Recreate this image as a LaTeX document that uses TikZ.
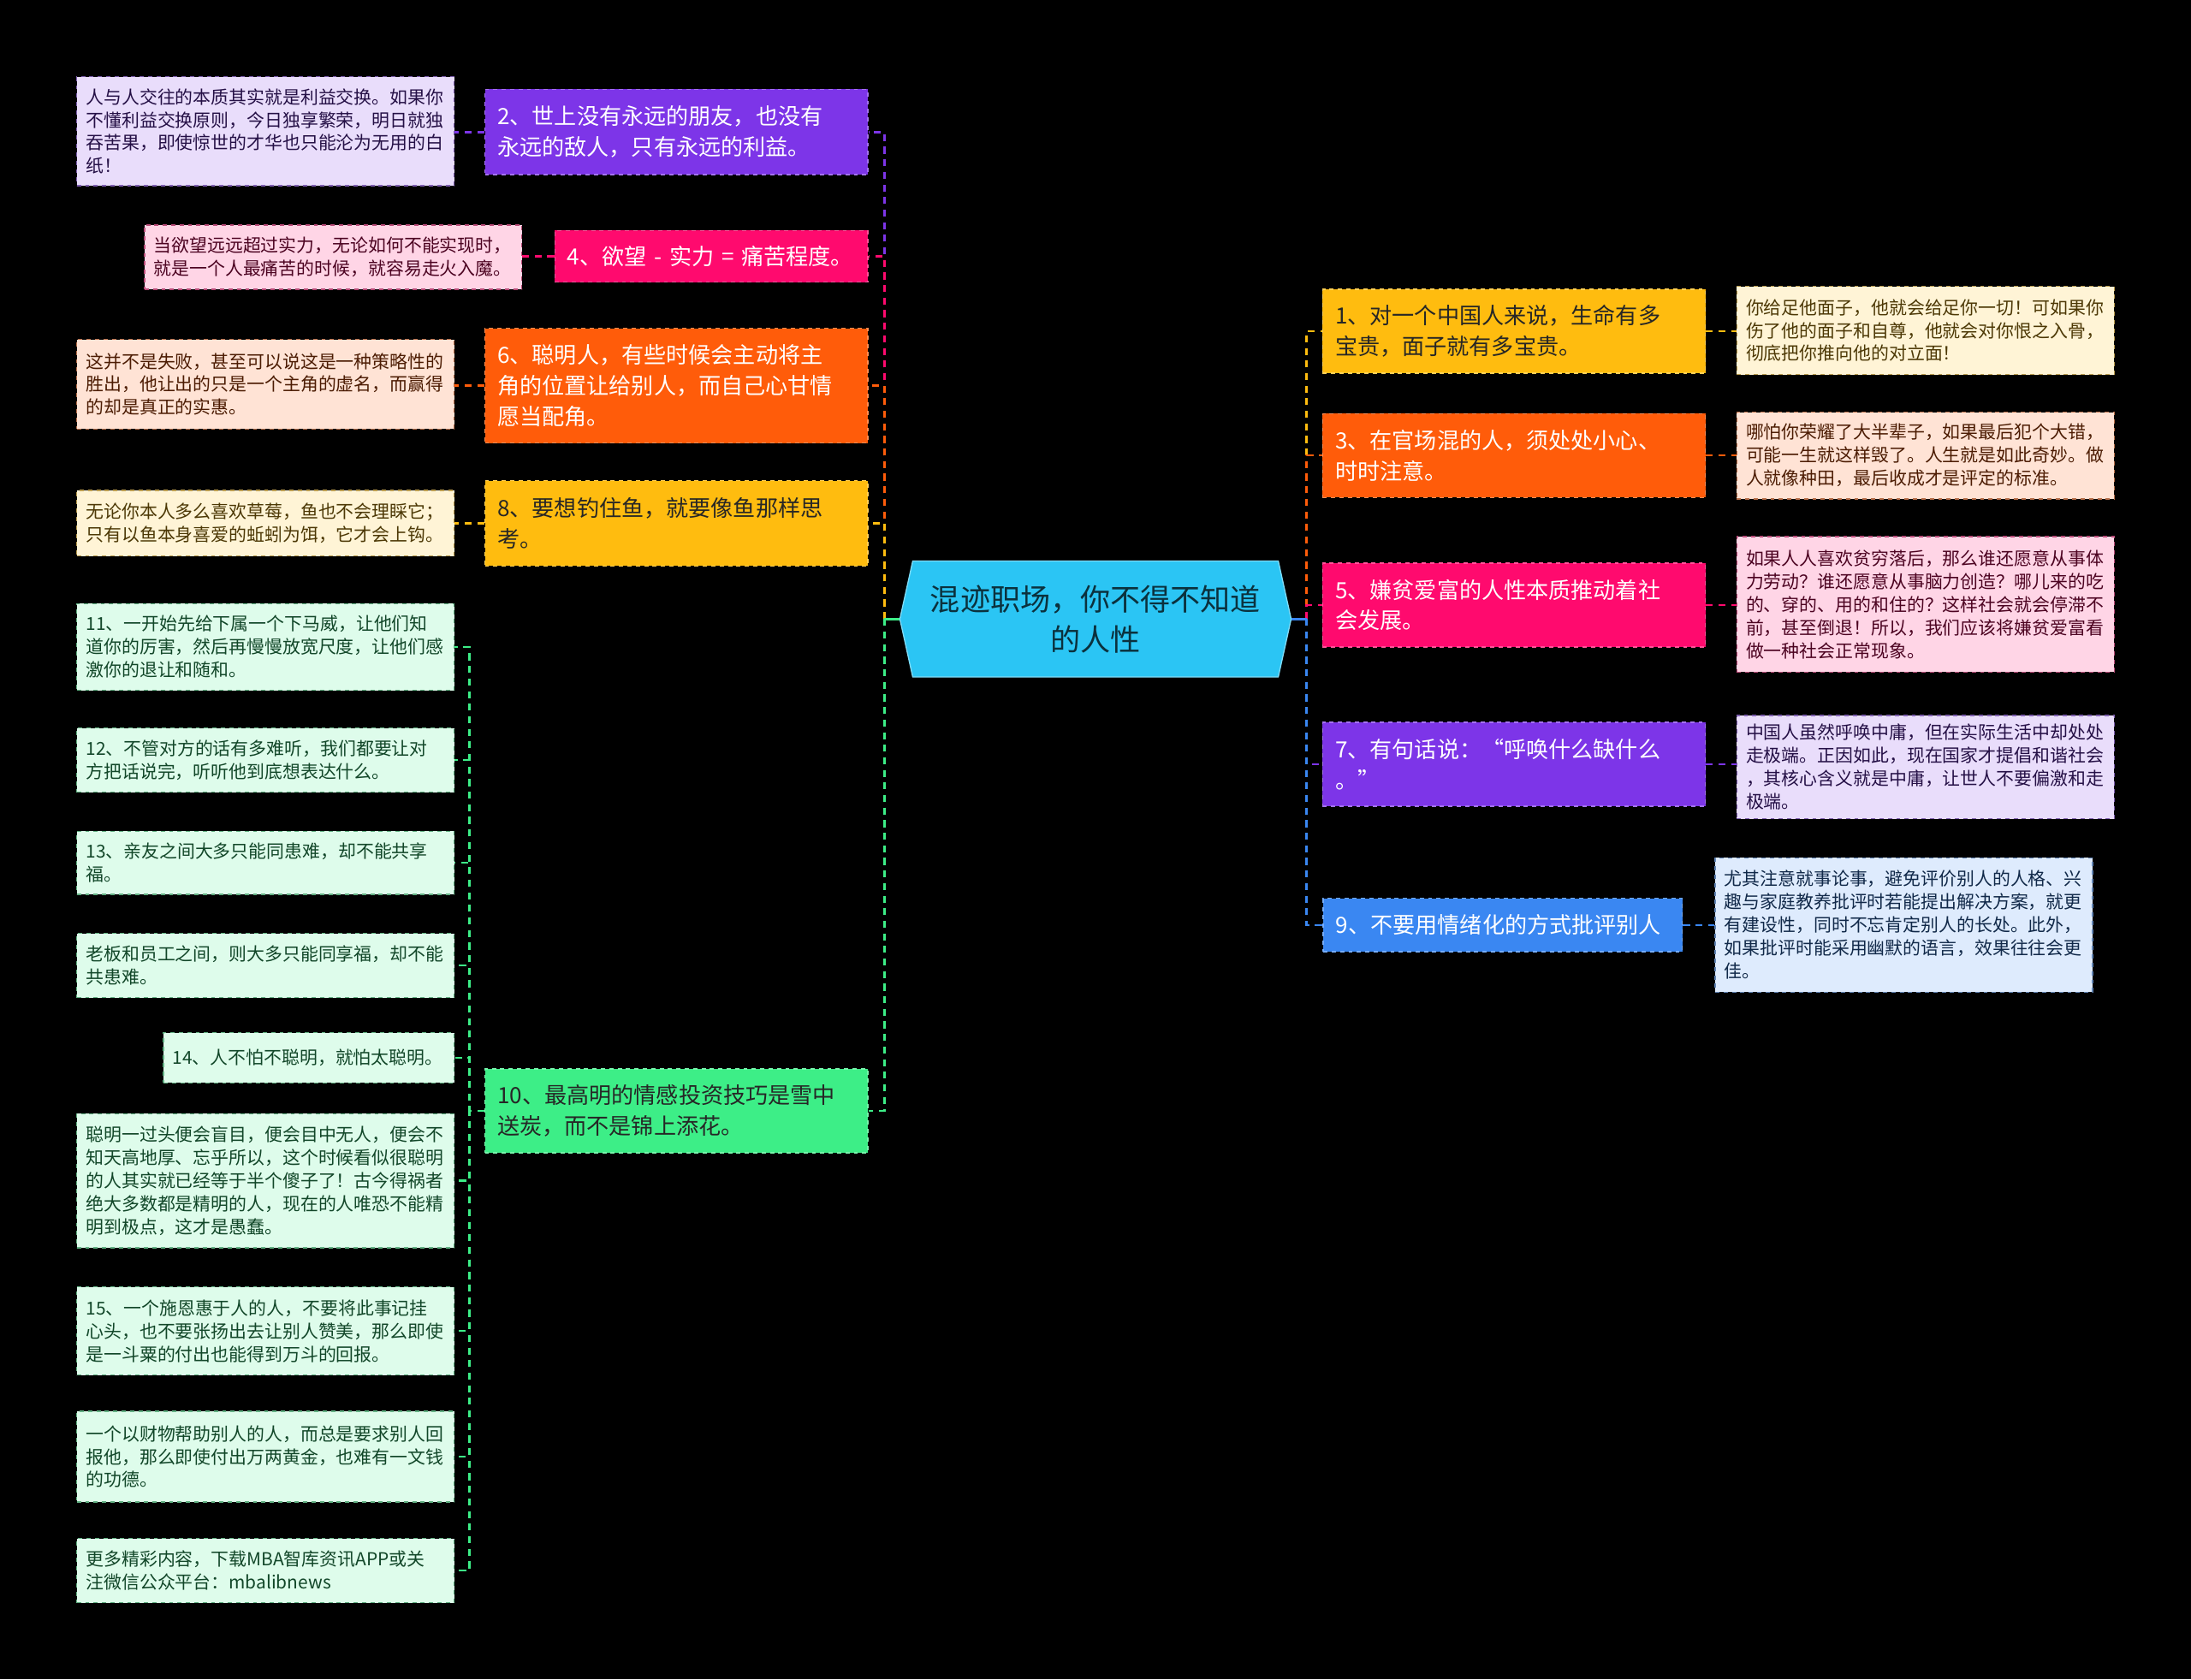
\documentclass[tikz,border=0pt]{standalone}
\usepackage{fontspec}
\setmainfont{Noto Sans CJK SC}
\usetikzlibrary{shapes.symbols}
\definecolor{cAmber}{RGB}{255,188,15}
\definecolor{cOrange}{RGB}{255,92,10}
\definecolor{cRose}{RGB}{255,10,110}
\definecolor{cPurple}{RGB}{125,53,232}
\definecolor{cBlue}{RGB}{58,135,242}
\definecolor{cGreen}{RGB}{61,238,135}
\definecolor{cCyan}{RGB}{43,197,244}
\tikzset{
  topic/.style={draw=#1!70!white, dashed, fill=#1, line width=0.8pt, inner xsep=9pt, text width=256pt, align=left, font=\fontsize{16}{22}\selectfont},
  note/.style={draw=#1!45!gray, dashed, fill=#1!17!white, text=#1!30!black, line width=0.8pt, inner xsep=6.5pt, text width=257pt, align=left, font=\fontsize{12.8}{16.5}\selectfont},
  conn/.style={draw=#1, dash pattern=on 5pt off 4pt, line width=1.5pt},
  stub/.style={draw=#1, line width=1.5pt},
  dark/.style={text=black!85}
}

\begin{document}
\begin{tikzpicture}[x=1pt, y=-1pt]
\useasboundingbox (0,0) rectangle (1568,1202);
\fill[black] (0,0) rectangle (1568,1202);

\node[signal, signal to=west and east, signal pointer angle=155, fill=cCyan, draw=cCyan!60!white, line width=0.8pt, minimum width=280pt, minimum height=83pt, text=cCyan!25!black, align=center, font=\fontsize{21.5}{29}\selectfont] (root) at (784,443) {混迹职场，你不得不知道\\的人性};
\coordinate (lhub) at (633,443);
\coordinate (rhub) at (935,443);
\coordinate (ghub) at (336,795);

\node[topic=cPurple, text=white, minimum height=61pt] (t2) at (484,94.5) {2、世上没有永远的朋友，也没有\\永远的敌人，只有永远的利益。};
\node[topic=cRose, text=white, minimum height=37pt, text width=206pt] (t4) at (509,183.5) {4、欲望 - 实力 = 痛苦程度。};
\node[topic=cOrange, text=white, minimum height=82pt] (t6) at (484,276) {6、聪明人，有些时候会主动将主\\角的位置让给别人，而自己心甘情\\愿当配角。};
\node[topic=cAmber, dark, minimum height=61pt] (t8) at (484,374.5) {8、要想钓住鱼，就要像鱼那样思\\考。};
\node[topic=cGreen, dark, minimum height=60pt] (t10) at (484,795) {10、最高明的情感投资技巧是雪中\\送炭，而不是锦上添花。};

\node[topic=cAmber, dark, minimum height=60pt] (t1) at (1083.5,237) {1、对一个中国人来说，生命有多\\宝贵，面子就有多宝贵。};
\node[topic=cOrange, text=white, minimum height=60pt] (t3) at (1083.5,326) {3、在官场混的人，须处处小心、\\时时注意。};
\node[topic=cRose, text=white, minimum height=60pt] (t5) at (1083.5,433) {5、嫌贫爱富的人性本质推动着社\\会发展。};
\node[topic=cPurple, text=white, minimum height=60pt] (t7) at (1083.5,547) {7、有句话说：“呼唤什么缺什么\\。”};
\node[topic=cBlue, text=white, minimum height=38pt, text width=239pt] (t9) at (1075.5,662) {9、不要用情绪化的方式批评别人};

\node[note=cPurple, minimum height=78pt] (n2) at (190,94) {人与人交往的本质其实就是利益交换。如果你\\不懂利益交换原则，今日独享繁荣，明日就独\\吞苦果，即使惊世的才华也只能沦为无用的白\\纸！};
\node[note=cRose, minimum height=46pt] (n4) at (238.5,184) {当欲望远远超过实力，无论如何不能实现时，\\就是一个人最痛苦的时候，就容易走火入魔。};
\node[note=cOrange, minimum height=64pt] (n6) at (190,275) {这并不是失败，甚至可以说这是一种策略性的\\胜出，他让出的只是一个主角的虚名，而赢得\\的却是真正的实惠。};
\node[note=cAmber, minimum height=47pt] (n8) at (190,374.5) {无论你本人多么喜欢草莓，鱼也不会理睬它；\\只有以鱼本身喜爱的蚯蚓为饵，它才会上钩。};

\node[note=cGreen, minimum height=62pt] (n11) at (190,463) {11、一开始先给下属一个下马威，让他们知\\道你的厉害，然后再慢慢放宽尺度，让他们感\\激你的退让和随和。};
\node[note=cGreen, minimum height=46pt] (n12) at (190,544) {12、不管对方的话有多难听，我们都要让对\\方把话说完，听听他到底想表达什么。};
\node[note=cGreen, minimum height=45pt] (n13) at (190,617.5) {13、亲友之间大多只能同患难，却不能共享\\福。};
\node[note=cGreen, minimum height=46pt] (n13b) at (190,691) {老板和员工之间，则大多只能同享福，却不能\\共患难。};
\node[note=cGreen, minimum height=36pt, text width=195pt] (n14) at (221,757) {14、人不怕不聪明，就怕太聪明。};
\node[note=cGreen, minimum height=96pt] (n14b) at (190,845) {聪明一过头便会盲目，便会目中无人，便会不\\知天高地厚、忘乎所以，这个时候看似很聪明\\的人其实就已经等于半个傻子了！古今得祸者\\绝大多数都是精明的人，现在的人唯恐不能精\\明到极点，这才是愚蠢。};
\node[note=cGreen, minimum height=63pt] (n15) at (190,952.5) {15、一个施恩惠于人的人，不要将此事记挂\\心头，也不要张扬出去让别人赞美，那么即使\\是一斗粟的付出也能得到万斗的回报。};
\node[note=cGreen, minimum height=65pt] (n15b) at (190,1042.5) {一个以财物帮助别人的人，而总是要求别人回\\报他，那么即使付出万两黄金，也难有一文钱\\的功德。};
\node[note=cGreen, minimum height=46pt] (n16) at (190,1124) {更多精彩内容，下载MBA智库资讯APP或关\\注微信公众平台：mbalibnews};

\node[note=cAmber, minimum height=63pt] (n1) at (1378,236.5) {你给足他面子，他就会给足你一切！可如果你\\伤了他的面子和自尊，他就会对你恨之入骨，\\彻底把你推向他的对立面！};
\node[note=cOrange, minimum height=62pt] (n3) at (1378,326) {哪怕你荣耀了大半辈子，如果最后犯个大错，\\可能一生就这样毁了。人生就是如此奇妙。做\\人就像种田，最后收成才是评定的标准。};
\node[note=cRose, minimum height=97pt] (n5) at (1378,432.5) {如果人人喜欢贫穷落后，那么谁还愿意从事体\\力劳动？谁还愿意从事脑力创造？哪儿来的吃\\的、穿的、用的和住的？这样社会就会停滞不\\前，甚至倒退！所以，我们应该将嫌贫爱富看\\做一种社会正常现象。};
\node[note=cPurple, minimum height=74pt] (n7) at (1378,549) {中国人虽然呼唤中庸，但在实际生活中却处处\\走极端。正因如此，现在国家才提倡和谐社会\\，其核心含义就是中庸，让世人不要偏激和走\\极端。};
\node[note=cBlue, minimum height=96pt] (n9) at (1362.5,662) {尤其注意就事论事，避免评价别人的人格、兴\\趣与家庭教养批评时若能提出解决方案，就更\\有建设性，同时不忘肯定别人的长处。此外，\\如果批评时能采用幽默的语言，效果往往会更\\佳。};

\foreach \t/\c in {t2/cPurple, t4/cRose, t6/cOrange, t8/cAmber, t10/cGreen}
  \draw[conn=\c] (lhub) |- (\t.east);
\foreach \t/\c in {t1/cAmber, t3/cOrange, t5/cRose, t7/cPurple, t9/cBlue}
  \draw[conn=\c] (rhub) |- (\t.west);
\draw[stub=cGreen] (root.west) -- (lhub);
\draw[stub=cBlue] (root.east) -- (rhub);

\foreach \t/\n/\c in {t2/n2/cPurple, t4/n4/cRose, t6/n6/cOrange, t8/n8/cAmber}
  \draw[conn=\c] (\t.west) -- (\n.east |- \t.west);
\foreach \t/\n/\c in {t1/n1/cAmber, t3/n3/cOrange, t5/n5/cRose, t7/n7/cPurple, t9/n9/cBlue}
  \draw[conn=\c] (\t.east) -- (\n.west |- \t.east);
\foreach \n in {n11, n12, n13, n13b, n14, n14b, n15, n15b, n16}
  \draw[conn=cGreen] (t10.west) -- (ghub) |- (\n.east);
\end{tikzpicture}
\end{document}
